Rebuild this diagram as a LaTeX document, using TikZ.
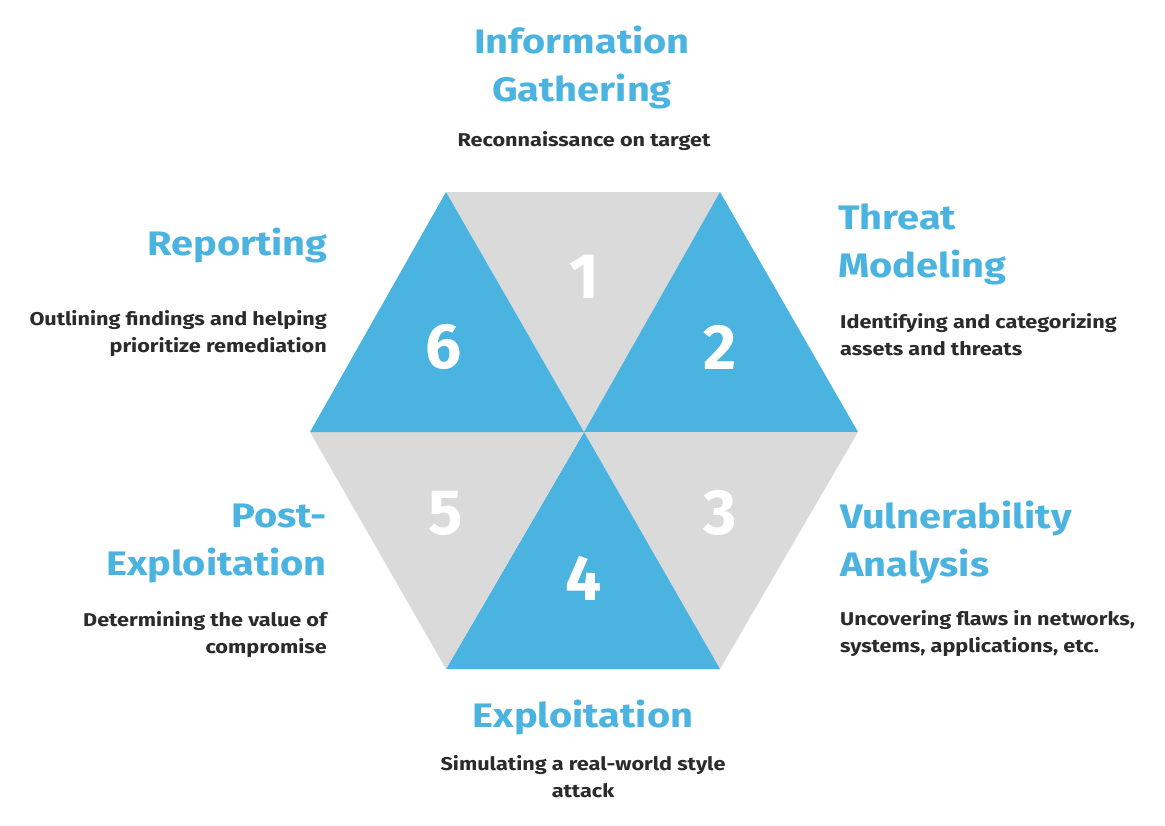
\documentclass[tikz,border=0pt]{standalone}
\usepackage{fontspec}
\setmainfont{Fira Sans}[FakeStretch=1.17]
\newfontfamily\numfont{Fira Sans}
\definecolor{hblue}{HTML}{4AB3E0}
\definecolor{hgray}{HTML}{DADADA}
\definecolor{txt}{HTML}{2B2B2B}
\begin{document}
\begin{tikzpicture}[x=1pt,y=-1pt,
  title/.style={text=hblue,font=\fontsize{34}{48}\selectfont\bfseries,inner sep=0pt,align=#1},
  desc/.style={text=txt,font=\fontsize{18.5}{27}\selectfont\bfseries,inner sep=0pt,align=#1},
  num/.style={text=white,font=\numfont\fontsize{64}{64}\selectfont\bfseries,inner sep=0pt}]
\useasboundingbox (0,0) rectangle (1165,825);
\coordinate (C) at (584,432);
\coordinate (TL) at (446,192);
\coordinate (TR) at (720,192);
\coordinate (R) at (858,432);
\coordinate (BR) at (720,669);
\coordinate (BL) at (446,669);
\coordinate (L) at (310,432);
\fill[hgray] (C)--(TL)--(TR)--cycle;
\fill[hblue] (C)--(TR)--(R)--cycle;
\fill[hgray] (C)--(R)--(BR)--cycle;
\fill[hblue] (C)--(BR)--(BL)--cycle;
\fill[hgray] (C)--(BL)--(L)--cycle;
\fill[hblue] (C)--(L)--(TL)--cycle;
\node[num] (n1) at (584,277) {1};
\node[num] (n2) at (720,347) {2};
\node[num] (n3) at (720,513) {3};
\node[num] (n4) at (584,578) {4};
\node[num] (n5) at (446,513) {5};
\node[num] (n6) at (444,347) {6};
\node[title=center] (t1) at (582,67) {Information\\Gathering};
\node[desc=center] (d1) at (584,141) {Reconnaissance on target};
\node[title=left,anchor=west] (t2) at (838,244) {Threat\\Modeling};
\node[desc=left,anchor=west] (d2) at (840,335) {Identifying and categorizing\\assets and threats};
\node[title=left,anchor=west] (t3) at (840,542) {Vulnerability\\Analysis};
\node[desc=left,anchor=west] (d3) at (840,634) {Uncovering flaws in networks,\\systems, applications, etc.};
\node[title=center] (t4) at (583,717) {Exploitation};
\node[desc=center] (d4) at (583,777) {Simulating a real-world style\\attack};
\node[title=right,anchor=east] (t5) at (327,543) {Post-\\Exploitation};
\node[desc=right,anchor=east] (d5) at (327,635) {Determining the value of\\compromise};
\node[title=right,anchor=east] (t6) at (328,245) {Reporting};
\node[desc=right,anchor=east] (d6) at (327,334) {Outlining findings and helping\\prioritize remediation};
\end{tikzpicture}
\end{document}
